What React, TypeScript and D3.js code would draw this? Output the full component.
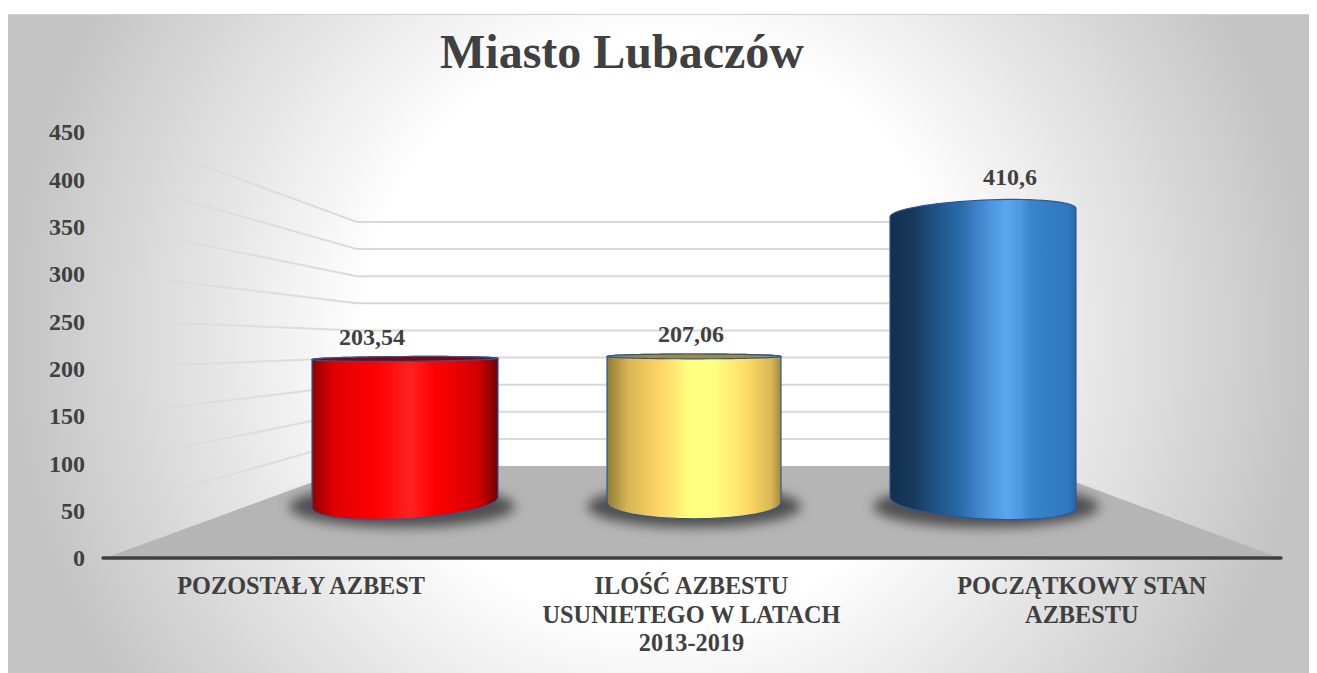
import { useRef, useEffect } from 'react';
import * as d3 from 'd3';

const title = 'Miasto Lubaczów';
const categories = ['POZOSTAŁY AZBEST', 'ILOŚĆ AZBESTU USUNIETEGO W LATACH 2013-2019', 'POCZĄTKOWY STAN AZBESTU'];
const categoryLines = [
  ['POZOSTAŁY AZBEST'],
  ['ILOŚĆ AZBESTU', 'USUNIETEGO W LATACH', '2013-2019'],
  ['POCZĄTKOWY STAN', 'AZBESTU'],
];
const values = [203.54, 207.06, 410.6];
const yTicks = [0, 50, 100, 150, 200, 250, 300, 350, 400, 450];

const redStops: [number, string][] = [[0, '#900000'], [0.12, '#e00000'], [0.35, '#ff0000'], [0.53, '#ff2222'], [0.66, '#ff0000'], [0.89, '#d40000'], [1, '#700000']];
const yellowStops: [number, string][] = [[0, '#8f7a33'], [0.12, '#d6b655'], [0.3, '#ffd566'], [0.48, '#ffff80'], [0.62, '#ffff80'], [0.8, '#ffdc66'], [0.94, '#dcb954'], [1, '#a08a3c']];
const blueStops: [number, string][] = [[0, '#12304d'], [0.12, '#17385a'], [0.24, '#1f5284'], [0.38, '#2a6ca8'], [0.52, '#4a90d8'], [0.62, '#5ba6ec'], [0.7, '#5098e0'], [0.76, '#3a84cc'], [0.96, '#2f78c0'], [1, '#2868a8']];
const barStops = [redStops, yellowStops, blueStops];
const topFaces = ['#8a0000', '#a08a3c', '#2c70b5'];

const width = 1317;
const height = 673;

function App() {
  const svgRef = useRef<SVGSVGElement>(null);

  useEffect(() => {
    const svg = d3.select(svgRef.current).attr('viewBox', [0, 0, width, height].join(' '));
    svg.selectAll('*').remove();
    const defs = svg.append('defs');

    const bg = defs.append('radialGradient').attr('id', 'bg').attr('gradientUnits', 'userSpaceOnUse')
      .attr('cx', 660).attr('cy', 330).attr('r', 650);
    [[0, '#ffffff'], [0.45, '#ffffff'], [1, '#c4c4c4']].forEach(([o, c]) =>
      bg.append('stop').attr('offset', o).attr('stop-color', c)
    );

    const fade = defs.append('linearGradient').attr('id', 'fade').attr('gradientUnits', 'userSpaceOnUse')
      .attr('x1', 105).attr('x2', 357).attr('y1', 0).attr('y2', 0);
    fade.append('stop').attr('offset', 0).attr('stop-color', '#d9d9d9').attr('stop-opacity', 0);
    fade.append('stop').attr('offset', 0.2).attr('stop-color', '#d9d9d9').attr('stop-opacity', 0.5);
    fade.append('stop').attr('offset', 1).attr('stop-color', '#d9d9d9');

    barStops.forEach((stops, i) => {
      const g = defs.append('linearGradient').attr('id', `bar${i}`).attr('x1', 0).attr('x2', 1).attr('y1', 0).attr('y2', 0);
      stops.forEach(([o, c]) => g.append('stop').attr('offset', o).attr('stop-color', c));
    });

    defs.append('filter').attr('id', 'blur').attr('x', '-20%').attr('y', '-60%').attr('width', '140%').attr('height', '220%')
      .append('feGaussianBlur').attr('stdDeviation', 6);

    // Chart area
    svg.append('rect').attr('x', 8).attr('y', 14).attr('width', 1301).attr('height', 659)
      .attr('fill', 'url(#bg)');
    svg.append('line').attr('x1', 8).attr('x2', 1309).attr('y1', 14.5).attr('y2', 14.5).attr('stroke', '#d0d0d0');

    svg.append('text').attr('x', 622).attr('y', 68).attr('text-anchor', 'middle')
      .attr('font-family', '"Liberation Serif"').attr('font-weight', 700).attr('font-size', 48)
      .attr('fill', '#404040').text(title);

    // Scales: front edge of the wall, back wall, bars in perspective
    const yFront = d3.scaleLinear().domain([0, 450]).range([558, 130]);
    const yBack = d3.scaleLinear().domain([0, 450]).range([466, 222]);
    const yLabel = d3.scaleLinear().domain([0, 450]).range([558, 132]);
    const yBar = d3.scaleLinear().domain([0, 450]).range([502.5, 185]);
    const xLabel = d3.scaleBand().domain(categories).range([106, 1277]);
    const xBar = d3.scaleBand().domain(categories).range([203, 1185]).padding(0.398);

    // Floor
    const backLeft = 357;
    const backRight = 1032;
    const floorLeft = 105;
    const floorRight = 1280;
    svg.append('path')
      .attr('d', d3.line()([[floorLeft, yFront(0)], [backLeft, yBack(0)], [backRight, yBack(0)], [floorRight, yFront(0)]]) + 'Z')
      .attr('fill', '#b5b5b5');

    // Gridlines
    svg.append('g').selectAll('path').data(yTicks.slice(1)).join('path')
      .attr('d', (d) => d3.line()([[floorLeft, yFront(d)], [backLeft, yBack(d)]]))
      .attr('fill', 'none').attr('stroke', 'url(#fade)').attr('stroke-width', 2);
    svg.append('g').selectAll('line').data(yTicks.slice(1)).join('line')
      .attr('x1', backLeft).attr('x2', backRight)
      .attr('y1', (d) => yBack(d)).attr('y2', (d) => yBack(d))
      .attr('stroke', '#d9d9d9').attr('stroke-width', 2);

    // Axis line
    svg.append('line').attr('x1', floorLeft - 2).attr('x2', floorRight + 1)
      .attr('y1', yFront(0)).attr('y2', yFront(0))
      .attr('stroke', '#404040').attr('stroke-width', 3.5).attr('stroke-linecap', 'round');

    // Y axis labels
    const axis = svg.append('g').attr('transform', 'translate(85,0)')
      .call(d3.axisLeft(yLabel).tickValues(yTicks).tickSize(0).tickPadding(0).tickFormat((d) => String(d)));
    axis.select('.domain').remove();
    axis.selectAll('text').attr('font-family', '"Liberation Serif"').attr('font-weight', 700)
      .attr('font-size', 24).attr('fill', '#404040');

    // Perspective cylinders
    const eyeY = 340;
    const centre = xBar(categories[1])! + xBar.bandwidth() / 2;
    const step = xBar.step();
    const ellipse = (cx: number, cy: number, rx: number, t: number) => {
      const dist = cy - eyeY;
      const ry = Math.max(2.4, Math.abs(dist) * 0.1);
      const tilt = t * dist * 0.065;
      return d3.range(0, 73).map((k) => {
        const a = (k / 72) * 2 * Math.PI;
        return [cx + rx * Math.cos(a), cy + (tilt / 2) * Math.cos(a) + ry * Math.sin(a)] as [number, number];
      });
    };
    const closed = d3.line();

    const bars = svg.append('g').selectAll('g').data(values).join('g');
    bars.each(function (d, i) {
      const g = d3.select(this);
      const cx = xBar(categories[i])! + xBar.bandwidth() / 2;
      const t = (cx - centre) / step;
      const rx = (xBar.bandwidth() + 12 * Math.abs(t)) / 2;
      const base = yBar(0);
      const top = yBar(d);

      g.append('ellipse').attr('cx', cx + t * 3).attr('cy', base + 4).attr('rx', rx + 20).attr('ry', 21)
        .attr('fill', '#505050').attr('filter', 'url(#blur)');

      const bottom = ellipse(cx, base, rx, t);
      const upper = ellipse(cx, top, rx, t);
      const hull = d3.polygonHull([...bottom, ...upper])!;
      g.append('path').attr('d', closed(hull) + 'Z').attr('fill', `url(#bar${i})`)
        .attr('stroke', '#2f5597').attr('stroke-width', 1.2);
      if (top > eyeY) {
        g.append('path').attr('d', closed(upper) + 'Z').attr('fill', topFaces[i])
          .attr('stroke', '#2f5597').attr('stroke-width', 1.2);
      }

      const ry = Math.max(2.4, Math.abs(top - eyeY) * 0.1);
      g.append('text').attr('x', cx + t * 30 - 3).attr('y', top - ry * 1.3 - 19).attr('dy', '0.33em')
        .attr('text-anchor', 'middle').attr('font-family', '"Liberation Serif"').attr('font-weight', 700)
        .attr('font-size', 24).attr('fill', '#404040').text(String(d).replace('.', ','));
    });

    // Category labels
    svg.append('g').selectAll('text').data(categories).join('text')
      .attr('text-anchor', 'middle').attr('font-family', '"Liberation Serif"').attr('font-weight', 700)
      .attr('font-size', 24.3).attr('fill', '#404040')
      .each(function (d, i) {
        d3.select(this).selectAll('tspan').data(categoryLines[i]).join('tspan')
          .attr('x', xLabel(d)! + xLabel.bandwidth() / 2)
          .attr('y', (_, k) => 594 + k * 28.7)
          .text((l) => l);
      });
  }, []);

  return <svg ref={svgRef} width={width} height={height} style={{ position: 'absolute', left: 0, top: 0 }}></svg>;
}

export default App;
